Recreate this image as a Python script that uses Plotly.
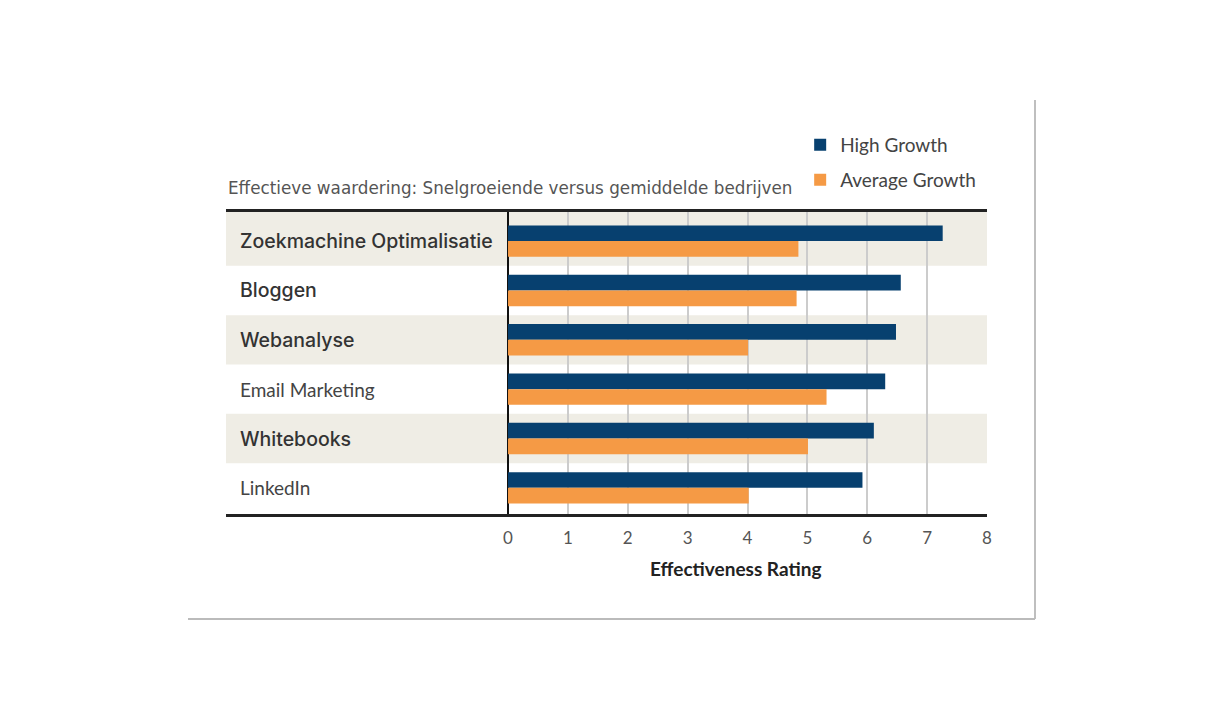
import plotly.graph_objects as go

categories = [
    "Zoekmachine Optimalisatie",
    "Bloggen",
    "Webanalyse",
    "Email Marketing",
    "Whitebooks",
    "LinkedIn",
]
high_growth = [7.26, 6.56, 6.48, 6.30, 6.11, 5.92]
average_growth = [4.85, 4.82, 4.01, 5.32, 5.01, 4.02]
tick_values = [0, 1, 2, 3, 4, 5, 6, 7, 8]

NAVY = "#07406f"
ORANGE = "#f59a45"
BAND = "#efede5"

# categories drawn in the condensed face in the original image
lato_labels = {"Email Marketing", "LinkedIn"}

Y_RANGE = [5.53, -0.59]

fig = go.Figure()
fig.add_trace(
    go.Bar(
        y=categories,
        x=high_growth,
        orientation="h",
        name="High Growth",
        marker=dict(color=NAVY, line=dict(width=0)),
        legend="legend",
    )
)
fig.add_trace(
    go.Bar(
        y=categories,
        x=average_growth,
        orientation="h",
        name="Average Growth",
        marker=dict(color=ORANGE, line=dict(width=0)),
        legend="legend2",
    )
)

# shaded rows (first one runs up to the top rule)
for i, cat in enumerate(categories):
    if i % 2 == 0:
        fig.add_shape(
            type="rect",
            xref="x domain",
            yref="y",
            x0=0,
            x1=1,
            y0=i + 0.5,
            y1=Y_RANGE[1] if i == 0 else i - 0.5,
            fillcolor=BAND,
            line=dict(width=0),
            layer="below",
        )

# row labels inside the plot area
for cat in categories:
    if cat in lato_labels:
        font = dict(family="Lato", size=19, color="#444444")
    else:
        font = dict(family="Inter", size=19.5, color="#333333", weight=500)
    fig.add_annotation(
        text=cat,
        xref="paper",
        yref="y",
        x=0.016,
        y=cat,
        xanchor="left",
        yanchor="middle",
        showarrow=False,
        font=font,
    )

# title and axis title
fig.add_annotation(
    text="Effectieve waardering: Snelgroeiende versus gemiddelde bedrijven",
    xref="paper",
    yref="paper",
    x=0.0,
    y=1.078,
    xanchor="left",
    yanchor="middle",
    showarrow=False,
    font=dict(family="DejaVu Sans", size=16.8, color="#555555"),
)
fig.add_annotation(
    text="<b>Effectiveness Rating</b>",
    xref="x",
    yref="paper",
    x=3.8,
    y=-0.179,
    xanchor="center",
    yanchor="middle",
    showarrow=False,
    font=dict(family="Lato", size=19, color="#222222"),
)

# page frame lines (right and bottom edges of the image)
frame_x = (1035 - 226) / 761
frame_bottom = (514 - 619) / 302
frame_top = (514 - 100) / 302
fig.add_shape(
    type="line", xref="paper", yref="paper",
    x0=frame_x, x1=frame_x, y0=frame_top, y1=frame_bottom,
    line=dict(color="#aaaaaa", width=1.5),
)
fig.add_shape(
    type="line", xref="paper", yref="paper",
    x0=(188 - 226) / 761, x1=frame_x, y0=frame_bottom, y1=frame_bottom,
    line=dict(color="#bbbbbb", width=2),
)

legend_style = dict(
    x=0.7545,
    xanchor="left",
    yanchor="middle",
    font=dict(family="Lato", size=19, color="#444444"),
    bgcolor="rgba(0,0,0,0)",
    itemwidth=30,
)

fig.update_layout(
    width=1224,
    height=720,
    margin=dict(l=218, r=245, t=204, b=214),
    paper_bgcolor="white",
    plot_bgcolor="white",
    barmode="group",
    bargap=0.364,
    bargroupgap=0.0,
    showlegend=True,
    legend=dict(y=1.222, **legend_style),
    legend2=dict(y=1.106, **legend_style),
    xaxis=dict(
        range=[-4.71, 8],
        tickvals=tick_values,
        showgrid=True,
        gridcolor="#cccccc",
        gridwidth=1.5,
        zeroline=True,
        zerolinecolor="#111111",
        zerolinewidth=1.5,
        showline=True,
        linecolor="#222222",
        linewidth=2.5,
        mirror=True,
        ticks="",
        ticklabelstandoff=7,
        tickfont=dict(family="Lato", size=17, color="#555555"),
        fixedrange=True,
    ),
    yaxis=dict(
        range=Y_RANGE,
        showticklabels=False,
        showgrid=False,
        zeroline=False,
        showline=False,
        ticks="",
        fixedrange=True,
    ),
)

fig.write_html("out.html")
